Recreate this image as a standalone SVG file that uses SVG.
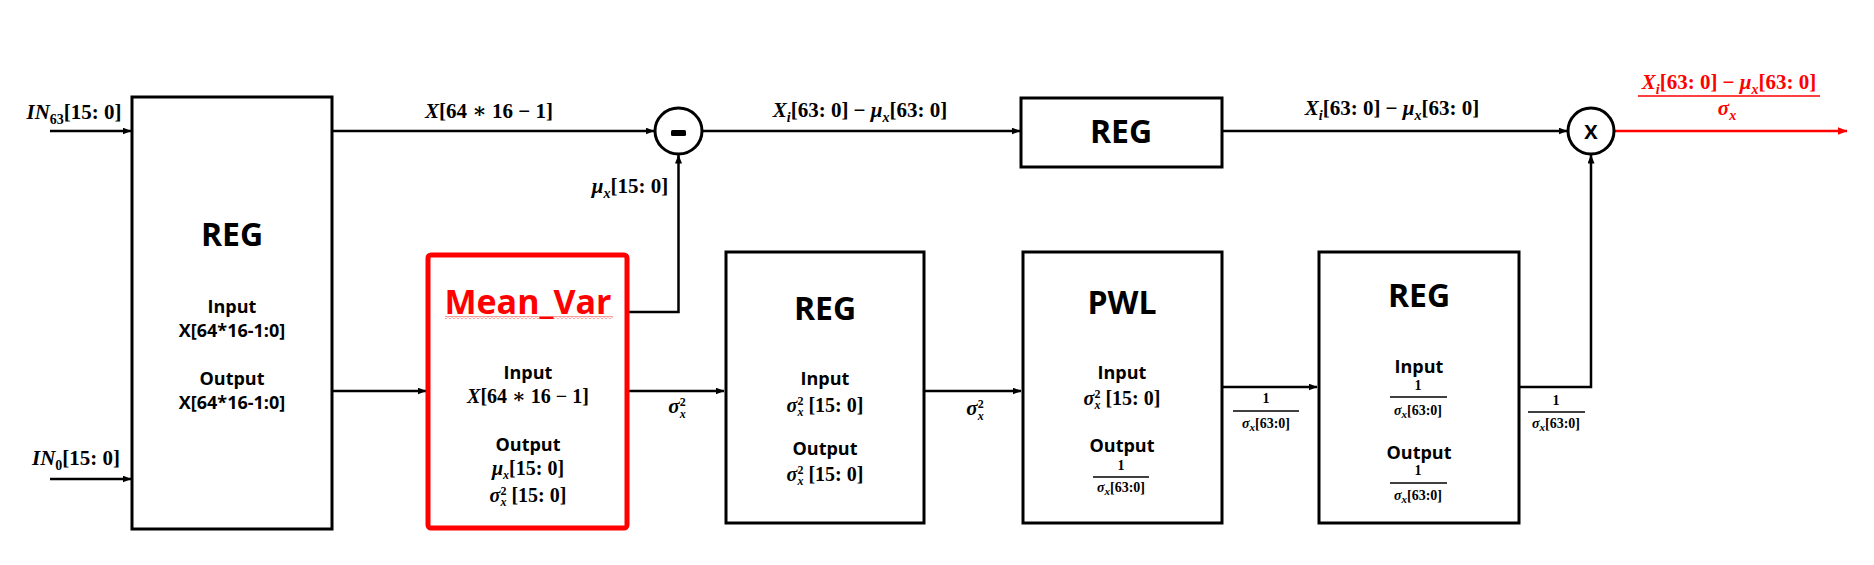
<svg xmlns="http://www.w3.org/2000/svg" width="1874" height="565" viewBox="0 0 1874 565">
<style>
.box{fill:#fff;stroke:#000;stroke-width:3}
.red{fill:#fff;stroke:#f00;stroke-width:5}
.c{fill:none;stroke:#000;stroke-width:2.5}
.cr{fill:none;stroke:#f00;stroke-width:2.5}
.bar{stroke:#000;stroke-width:1.3}
.t{font-family:"Open Sans","Noto Sans",sans-serif;font-weight:bold;font-size:18px;text-anchor:middle;fill:#000}
.h{font-size:32px}
.m{font-family:"Liberation Serif","DejaVu Serif",serif;font-weight:bold;font-size:21px;text-anchor:middle;fill:#000}
.s{font-size:20px}
.f{font-size:14px}
.i{font-style:italic}
.sb{font-size:14px}
.sp{font-size:12px}
</style>
<defs>
<marker id="ah" viewBox="0 0 9 7" refX="8.5" refY="3.5" markerWidth="9" markerHeight="7" markerUnits="userSpaceOnUse" orient="auto"><path d="M0,0 L9,3.5 L0,7 z" fill="#000"/></marker>
<marker id="ahr" viewBox="0 0 9 7" refX="8.5" refY="3.5" markerWidth="10" markerHeight="8" markerUnits="userSpaceOnUse" orient="auto"><path d="M0,0 L9,3.5 L0,7 z" fill="#f00"/></marker>
<pattern id="sq" width="4" height="3" patternUnits="userSpaceOnUse"><path d="M0,2.5 L2,0.5 L4,2.5" fill="none" stroke="#f00" stroke-width="0.8"/></pattern>
</defs>

<g id="connectors">
<path class="c" d="M50,131 H131" marker-end="url(#ah)"/>
<path class="c" d="M50,479 H131" marker-end="url(#ah)"/>
<path class="c" d="M333,131 H654" marker-end="url(#ah)"/>
<path class="c" d="M702,131 H1020" marker-end="url(#ah)"/>
<path class="c" d="M1222,131 H1567" marker-end="url(#ah)"/>
<path class="cr" d="M1614,131 H1847" marker-end="url(#ahr)"/>
<path class="c" d="M333,391 H426" marker-end="url(#ah)"/>
<path class="c" d="M628,312 H678.5 V155" marker-end="url(#ah)"/>
<path class="c" d="M628,391 H724" marker-end="url(#ah)"/>
<path class="c" d="M924,391 H1021" marker-end="url(#ah)"/>
<path class="c" d="M1222,387 H1317" marker-end="url(#ah)"/>
<path class="c" d="M1519,387 H1591 V155" marker-end="url(#ah)"/>
</g>

<g id="labels">
<text class="m" x="74" y="119"><tspan class="i">IN</tspan><tspan class="sb" dy="5">63</tspan><tspan dy="-5">[15: 0]</tspan></text>
<text class="m" x="76" y="465"><tspan class="i">IN</tspan><tspan class="sb" dy="5">0</tspan><tspan dy="-5">[15: 0]</tspan></text>
<text class="m" x="489" y="118"><tspan class="i">X</tspan>[64 ∗ 16 − 1]</text>
<text class="m" x="630" y="193"><tspan class="i">μ</tspan><tspan class="sb i" dy="5">x</tspan><tspan dy="-5">[15: 0]</tspan></text>
<text class="m" x="860" y="117"><tspan class="i">X</tspan><tspan class="sb i" dy="5">i</tspan><tspan dy="-5">[63: 0] − </tspan><tspan class="i">μ</tspan><tspan class="sb i" dy="5">x</tspan><tspan dy="-5">[63: 0]</tspan></text>
<text class="m" x="1392" y="115"><tspan class="i">X</tspan><tspan class="sb i" dy="5">i</tspan><tspan dy="-5">[63: 0] − </tspan><tspan class="i">μ</tspan><tspan class="sb i" dy="5">x</tspan><tspan dy="-5">[63: 0]</tspan></text>
<text class="m" x="1729" y="89" style="fill:#f00"><tspan class="i">X</tspan><tspan class="sb i" dy="5">i</tspan><tspan dy="-5">[63: 0] − </tspan><tspan class="i">μ</tspan><tspan class="sb i" dy="5">x</tspan><tspan dy="-5">[63: 0]</tspan></text>
<line x1="1638" y1="96" x2="1820" y2="96" stroke="#f00" stroke-width="1.5"/>
<text class="m" x="1727" y="115" style="fill:#f00"><tspan class="i">σ</tspan><tspan class="sb i" dy="5">x</tspan></text>
<text class="m" x="677" y="413"><tspan class="i">σ</tspan><tspan class="sp" dy="-7">2</tspan><tspan class="sp i" dx="-6" dy="12">x</tspan></text>
<text class="m" x="975" y="415"><tspan class="i">σ</tspan><tspan class="sp" dy="-7">2</tspan><tspan class="sp i" dx="-6" dy="12">x</tspan></text>
<text class="m f" x="1266" y="403">1</text>
<line class="bar" x1="1233" y1="411" x2="1299" y2="411"/>
<text class="m f" x="1266" y="428"><tspan class="i">σ</tspan><tspan class="i" font-size="11" dy="3">x</tspan><tspan dy="-3">[63:0]</tspan></text>
<text class="m f" x="1556" y="405">1</text>
<line class="bar" x1="1528" y1="412" x2="1585" y2="412"/>
<text class="m f" x="1556" y="428"><tspan class="i">σ</tspan><tspan class="i" font-size="11" dy="3">x</tspan><tspan dy="-3">[63:0]</tspan></text>
</g>

<g id="reg_in">
<rect class="box" x="132" y="97" width="200" height="432"/>
<text class="t h" x="232" y="246">REG</text>
<text class="t" x="232" y="313">Input</text>
<text class="t" x="232" y="337">X[64*16-1:0]</text>
<text class="t" x="232" y="385">Output</text>
<text class="t" x="232" y="409">X[64*16-1:0]</text>
</g>

<g id="sub_op">
<ellipse cx="678.5" cy="131" rx="23.5" ry="23" fill="#fff" stroke="#000" stroke-width="3"/>
<rect x="671" y="130" width="15" height="6" rx="1.5" fill="#000"/>
</g>

<g id="reg_top">
<rect class="box" x="1021" y="98" width="201" height="69"/>
<text class="t h" x="1121" y="143">REG</text>
</g>

<g id="mul_op">
<ellipse cx="1591" cy="131" rx="23" ry="23" fill="#fff" stroke="#000" stroke-width="3"/>
<text class="t" x="1591" y="139" style="font-size:20px">X</text>
</g>

<g id="mean_var">
<rect class="red" x="428" y="255" width="199" height="273" rx="3"/>
<text class="t" x="528" y="314" style="font-size:34px;fill:#f00">Mean_Var</text>
<rect x="445" y="316" width="168" height="3" fill="url(#sq)"/>
<text class="t" x="528" y="379">Input</text>
<text class="m s" x="528" y="403"><tspan class="i">X</tspan>[64 ∗ 16 − 1]</text>
<text class="t" x="528" y="451">Output</text>
<text class="m s" x="528" y="475"><tspan class="i">μ</tspan><tspan class="sp i" dy="4">x</tspan><tspan dy="-4">[15: 0]</tspan></text>
<text class="m s" x="528" y="502"><tspan class="i">σ</tspan><tspan class="sp" dy="-7">2</tspan><tspan class="sp i" dx="-6" dy="11">x</tspan><tspan dy="-4"> [15: 0]</tspan></text>
</g>

<g id="reg_var">
<rect class="box" x="726" y="252" width="198" height="271"/>
<text class="t h" x="825" y="320">REG</text>
<text class="t" x="825" y="385">Input</text>
<text class="m s" x="825" y="412"><tspan class="i">σ</tspan><tspan class="sp" dy="-7">2</tspan><tspan class="sp i" dx="-6" dy="11">x</tspan><tspan dy="-4"> [15: 0]</tspan></text>
<text class="t" x="825" y="455">Output</text>
<text class="m s" x="825" y="481"><tspan class="i">σ</tspan><tspan class="sp" dy="-7">2</tspan><tspan class="sp i" dx="-6" dy="11">x</tspan><tspan dy="-4"> [15: 0]</tspan></text>
</g>

<g id="pwl">
<rect class="box" x="1023" y="252" width="199" height="271"/>
<text class="t h" x="1122" y="314">PWL</text>
<text class="t" x="1122" y="379">Input</text>
<text class="m s" x="1122" y="405"><tspan class="i">σ</tspan><tspan class="sp" dy="-7">2</tspan><tspan class="sp i" dx="-6" dy="11">x</tspan><tspan dy="-4"> [15: 0]</tspan></text>
<text class="t" x="1122" y="452">Output</text>
<text class="m f" x="1121" y="470">1</text>
<line class="bar" x1="1093" y1="477" x2="1149" y2="477"/>
<text class="m f" x="1121" y="492"><tspan class="i">σ</tspan><tspan class="i" font-size="11" dy="3">x</tspan><tspan dy="-3">[63:0]</tspan></text>
</g>

<g id="reg_inv">
<rect class="box" x="1319" y="252" width="200" height="271"/>
<text class="t h" x="1419" y="307">REG</text>
<text class="t" x="1419" y="373">Input</text>
<text class="m f" x="1418" y="390">1</text>
<line class="bar" x1="1390" y1="397" x2="1447" y2="397"/>
<text class="m f" x="1418" y="415"><tspan class="i">σ</tspan><tspan class="i" font-size="11" dy="3">x</tspan><tspan dy="-3">[63:0]</tspan></text>
<text class="t" x="1419" y="459">Output</text>
<text class="m f" x="1418" y="475">1</text>
<line class="bar" x1="1390" y1="483" x2="1447" y2="483"/>
<text class="m f" x="1418" y="500"><tspan class="i">σ</tspan><tspan class="i" font-size="11" dy="3">x</tspan><tspan dy="-3">[63:0]</tspan></text>
</g>
</svg>
